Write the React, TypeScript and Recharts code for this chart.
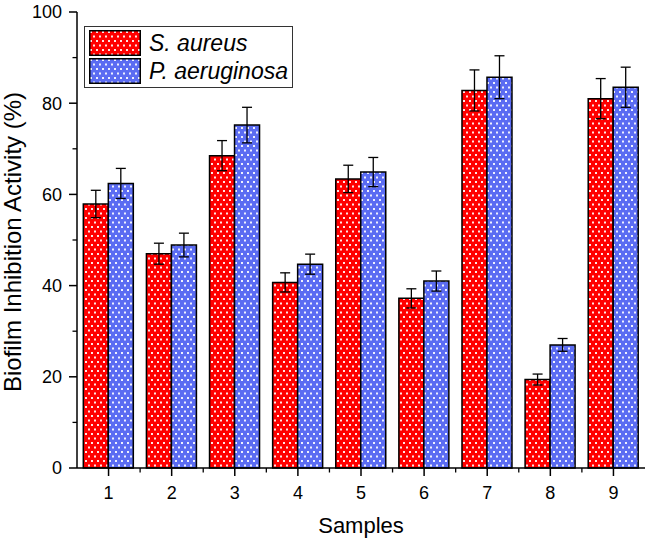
import { Bar, BarChart, ErrorBar, Legend, XAxis, YAxis } from "recharts";

const samples = ["1", "2", "3", "4", "5", "6", "7", "8", "9"];
const sAureus = [57.9, 47.0, 68.5, 40.7, 63.4, 37.2, 82.8, 19.4, 81.0];
const sAureusErr = [3.0, 2.3, 3.3, 2.1, 3.0, 2.1, 4.5, 1.2, 4.4];
const pAeruginosa = [62.4, 48.9, 75.2, 44.7, 64.9, 41.0, 85.7, 27.0, 83.5];
const pAeruginosaErr = [3.3, 2.6, 3.9, 2.2, 3.2, 2.2, 4.7, 1.4, 4.4];
const seriesNames = ["S. aureus", "P. aeruginosa"];

const yMajorTicks = [0, 20, 40, 60, 80, 100];
const yMinorTicks = [10, 30, 50, 70, 90];

const FONT = '"Liberation Sans", Arial, sans-serif';
const RED = "#ff0000";
const BLUE = "#5b6cf2";
const MAJOR = 8;
const MINOR = 4.5;
const X_MARGIN = 10;
const Y_MARGIN = 7;

const data = samples.map((s, i) => ({
  sample: s,
  sa: sAureus[i],
  saErr: sAureusErr[i],
  pa: pAeruginosa[i],
  paErr: pAeruginosaErr[i],
}));

function DotPattern({ id, color }: { id: string; color: string }) {
  return (
    <pattern id={id} width={6} height={9} patternUnits="userSpaceOnUse">
      <rect width={6} height={9} fill={color} />
      <rect x={1} y={1} width={2} height={2} fill="#fff" fillOpacity={0.9} />
      <rect x={4} y={5.5} width={2} height={2} fill="#fff" fillOpacity={0.9} />
    </pattern>
  );
}

function XTick({ x, y, payload, index, visibleTicksCount }: any) {
  const ay = y - MAJOR - X_MARGIN;
  const last = index === visibleTicksCount - 1;
  return (
    <g>
      <text x={x} y={y} dy="0.71em" textAnchor="middle" fontSize={18} fontFamily={FONT} fill="#000">
        {payload.value}
      </text>
      {!last && payload.offset ? (
        <line x1={x + payload.offset} x2={x + payload.offset} y1={ay} y2={ay + MINOR} stroke="#000" strokeWidth={1.3} />
      ) : null}
    </g>
  );
}

function YTick({ x, y, payload }: any) {
  const ax = x + MAJOR + Y_MARGIN;
  const major = yMajorTicks.includes(payload.value);
  return (
    <g>
      <line x1={ax} x2={ax - (major ? MAJOR : MINOR)} y1={y} y2={y} stroke="#000" strokeWidth={major ? 1.5 : 1.3} />
      {major ? (
        <text x={x} y={y} dy="0.355em" textAnchor="end" fontSize={18} fontFamily={FONT} fill="#000">
          {payload.value}
        </text>
      ) : null}
    </g>
  );
}

function LegendBox() {
  const fills = ["url(#redDots)", "url(#blueDots)"];
  return (
    <div
      style={{
        border: "1.5px solid #333",
        background: "#fff",
        padding: "2px 4px",
        fontFamily: FONT,
        fontStyle: "italic",
        fontSize: 23,
      }}
    >
      {seriesNames.map((name, i) => (
        <div key={name} style={{ display: "flex", alignItems: "center", height: 28 }}>
          <svg width={52} height={26} style={{ marginRight: 8 }}>
            <rect x={0.75} y={0.75} width={50.5} height={24.5} fill={fills[i]} stroke="#000" strokeWidth={1.5} />
          </svg>
          <span>{name}</span>
        </div>
      ))}
    </div>
  );
}

export default function App() {
  return (
    <div style={{ position: "absolute", left: 0, top: 0 }}>
      <BarChart
        width={646}
        height={541}
        data={data}
        margin={{ top: 12, right: 1, bottom: 0, left: 0 }}
        barCategoryGap="10%"
        barGap={0}
      >
        <defs>
          <DotPattern id="redDots" color={RED} />
          <DotPattern id="blueDots" color={BLUE} />
        </defs>
        <XAxis
          dataKey="sample"
          height={73}
          tickSize={MAJOR}
          tickMargin={X_MARGIN}
          axisLine={{ stroke: "#000", strokeWidth: 1.5 }}
          tickLine={{ stroke: "#000", strokeWidth: 1.5 }}
          tick={<XTick />}
          label={({ viewBox }: any) => (
            <text
              x={viewBox.x + viewBox.width / 2}
              y={viewBox.y + 65}
              textAnchor="middle"
              fontSize={22}
              fontFamily={FONT}
              fill="#000"
            >
              Samples
            </text>
          )}
        />
        <XAxis xAxisId="top" orientation="top" dataKey="sample" height={0} tick={false} tickLine={false} axisLine={{ stroke: "#000", strokeWidth: 1.5 }} />
        <YAxis
          domain={[0, 100]}
          ticks={[...yMajorTicks, ...yMinorTicks].sort((a, b) => a - b)}
          width={77}
          tickSize={MAJOR}
          tickMargin={Y_MARGIN}
          axisLine={{ stroke: "#000", strokeWidth: 1.5 }}
          tickLine={false}
          tick={<YTick />}
          label={({ viewBox }: any) => {
            const cx = viewBox.x + 21;
            const cy = viewBox.y + viewBox.height / 2 + 2;
            return (
              <text
                x={cx}
                y={cy}
                transform={`rotate(-90, ${cx}, ${cy})`}
                textAnchor="middle"
                fontSize={24}
                fontFamily={FONT}
                fill="#000"
              >
                Biofilm Inhibition Activity (%)
              </text>
            );
          }}
        />
        <YAxis yAxisId="right" orientation="right" domain={[0, 100]} width={0} tick={false} tickLine={false} axisLine={{ stroke: "#000", strokeWidth: 1.5 }} />
        <Legend
          layout="horizontal"
          align="center"
          verticalAlign="middle"
          wrapperStyle={{ left: 84, top: 26, width: "auto" }}
          content={() => <LegendBox />}
        />
        <Bar dataKey="sa" name={seriesNames[0]} fill="url(#redDots)" stroke="#000" strokeWidth={1.5} isAnimationActive={false}>
          <ErrorBar dataKey="saErr" width={5} stroke="#000" strokeWidth={1.3} direction="y" />
        </Bar>
        <Bar dataKey="pa" name={seriesNames[1]} fill="url(#blueDots)" stroke="#000" strokeWidth={1.5} isAnimationActive={false}>
          <ErrorBar dataKey="paErr" width={5} stroke="#000" strokeWidth={1.3} direction="y" />
        </Bar>
      </BarChart>
    </div>
  );
}
